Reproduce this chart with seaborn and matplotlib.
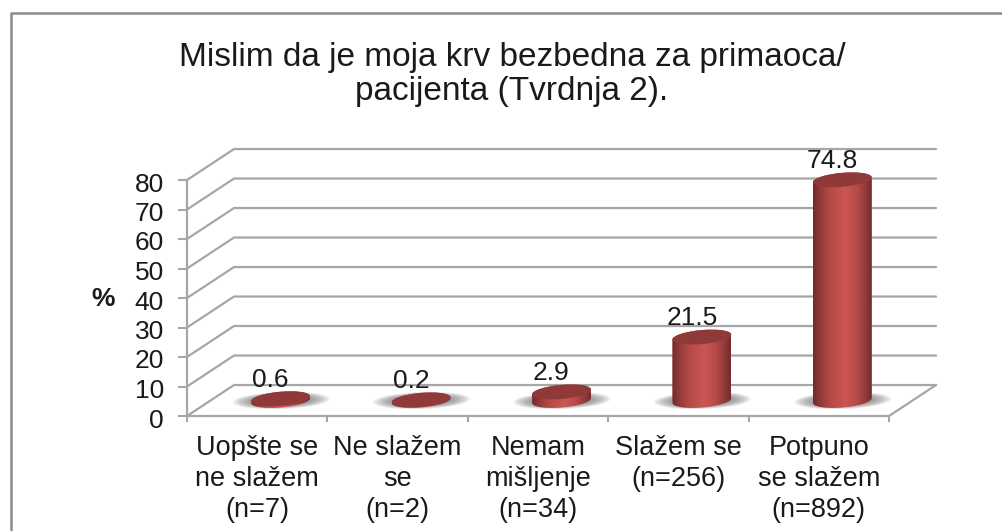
import numpy as np
import matplotlib
matplotlib.use("Agg")
import matplotlib.pyplot as plt
import seaborn as sns
from matplotlib.patches import Ellipse
from matplotlib.path import Path
from matplotlib.transforms import IdentityTransform, ScaledTranslation
from matplotlib.colors import LinearSegmentedColormap

categories = ["Uopšte se\nne slažem\n(n=7)", "Ne slažem\nse\n(n=2)", "Nemam\nmišljenje\n(n=34)",
              "Slažem se\n(n=256)", "Potpuno\nse slažem\n(n=892)"]
values = [0.6, 0.2, 2.9, 21.5, 74.8]
value_labels = ["0.6", "0.2", "2.9", "21.5", "74.8"]
y_ticks = [0, 10, 20, 30, 40, 50, 60, 70, 80]
title_text = "Mislim da je moja krv bezbedna za primaoca/\npacijenta (Tvrdnja 2)."

W, H = 1003, 531
sns.set_theme(style="white")
plt.rcParams["font.family"] = ["Liberation Sans", "DejaVu Sans"]

fig = plt.figure(figsize=(W / 100, H / 100), dpi=100, facecolor="white")

def rect(x0, x1, ytop, ybot):
    return [x0 / W, 1 - ybot / H, (x1 - x0) / W, (ybot - ytop) / H]

GRID = "#a6a6a6"
TXT = "#1a1a1a"
# front plane of the 3D box
ax_f = fig.add_axes(rect(187, 889, 180, 416), facecolor="none")
ax_f.set_xlim(-0.5, 4.5)
ax_f.set_ylim(0, 80)
ax_f.set_yticks(y_ticks)
ax_f.set_xticks(np.arange(-0.5, 5, 1), minor=False)
ax_f.set_xticklabels([])
ax_f.set_xticks(range(5), minor=True)
ax_f.set_xticklabels(categories, minor=True, fontsize=19.5, color=TXT, linespacing=1.25)
ax_f.tick_params(axis="x", which="minor", length=0, pad=14, bottom=True)
ax_f.tick_params(axis="x", which="major", length=4.5, width=1.5, color=GRID, direction="out", bottom=True)
ax_f.tick_params(axis="y", length=6.5, width=1.5, color=GRID, labelsize=19, labelcolor=TXT, pad=10, direction="out", left=True)
shift_down = ScaledTranslation(0, -2 / 100, fig.dpi_scale_trans)
for t in ax_f.get_yticklabels():
    t.set_transform(t.get_transform() + shift_down)
sns.despine(ax=ax_f, top=True, right=True)
for s in ("left", "bottom"):
    ax_f.spines[s].set_color(GRID)
    ax_f.spines[s].set_linewidth(1.6)
ax_f.set_ylabel("%", rotation=0, fontsize=19, fontweight="bold", color=TXT, va="center", ha="center")
ax_f.yaxis.set_label_coords(-0.119, 0.495)

dx, dy = 0.335, 10.5
for v in y_ticks:
    ax_f.plot([-0.5, -0.5 + dx, 4.5 + dx], [v, v + dy, v + dy], color=GRID, lw=1.6, clip_on=False, zorder=1)
ax_f.plot([4.5, 4.5 + dx], [0, dy], color=GRID, lw=1.6, clip_on=False, zorder=1)

# bars stand mid-depth in the box
ax_b = fig.add_axes(rect(210.5, 912.5, 164.5, 400.5), facecolor="none")
sns.barplot(x=list(range(5)), y=values, ax=ax_b, width=0.42, color="#c0504d", saturation=1, zorder=2, linewidth=0)
ax_b.set_xlim(-0.5, 4.5)
ax_b.set_ylim(0, 80)
ax_b.axis("off")

cmap = LinearSegmentedColormap.from_list(
    "cyl", [(0, "#6f2c2a"), (0.12, "#93393a"), (0.3, "#b54a48"), (0.55, "#cc5653"),
            (0.75, "#b54a48"), (0.9, "#8f3a38"), (1, "#6f2c2a")])
grad = np.linspace(0, 1, 256).reshape(1, -1)
ident = IdentityTransform()
EH = 14
TILT = np.radians(5)

def arc(cx, cy, a, b, t0, t1):
    t = np.linspace(t0, t1, 60)
    x = cx + a * np.cos(t) * np.cos(TILT) - b * np.sin(t) * np.sin(TILT)
    y = cy + a * np.cos(t) * np.sin(TILT) + b * np.sin(t) * np.cos(TILT)
    return np.column_stack([x, y])

for bar, val, lab in zip(ax_b.patches, values, value_labels):
    cx = bar.get_x() + bar.get_width() / 2
    px, py_top = ax_b.transData.transform((cx, val))
    _, py_base = ax_b.transData.transform((cx, 0))
    x0, _ = ax_b.transData.transform((bar.get_x(), 0))
    x1, _ = ax_b.transData.transform((bar.get_x() + bar.get_width(), 0))
    bw = x1 - x0
    # soft ground shadow
    for k in np.linspace(1, 0.5, 12):
        ax_b.add_patch(Ellipse((px + 0.5, py_base), 97 * k, 17 * k, angle=2, transform=ident,
                               fc="#6a6a6a", ec="none", alpha=0.1, zorder=0.5, clip_on=False))
    # cylinder outline: lower half of base + upper half of top
    outline = np.vstack([arc(px, py_base, bw / 2, EH / 2, np.pi, 2 * np.pi),
                         arc(px, py_top, bw / 2, EH / 2, 0, np.pi)])
    clip = Path(np.vstack([outline, outline[0]]), closed=True)
    bar.set_clip_path(clip, ident)
    bar.set_clip_box(fig.bbox)
    im = ax_b.imshow(grad, cmap=cmap, aspect="auto", interpolation="bilinear",
                     extent=(bar.get_x(), bar.get_x() + bar.get_width(), -6, val + 6), zorder=3)
    im.set_clip_path(clip, ident)
    im.set_clip_box(fig.bbox)
    # top cap
    ax_b.add_patch(Ellipse((px, py_top), bw, EH, angle=np.degrees(TILT), transform=ident,
                           fc="#8f3a38", ec="none", zorder=4, clip_on=False))
    ax_b.annotate(lab, (cx, val), xytext=(-10, 19), textcoords="offset pixels", ha="center", va="center",
                  fontsize=19, color=TXT, zorder=6, annotation_clip=False)
ax_b.set_xlim(-0.5, 4.5)
ax_b.set_ylim(0, 80)

fig.text(512 / W, 1 - 74.5 / H, title_text, ha="center", va="center", fontsize=24, color=TXT, linespacing=1.15)

# outer chart frame
frame = "#8c8c8c"
fig.add_artist(plt.Line2D([10.5 / W, 10.5 / W, 1], [0, 1 - 12.5 / H, 1 - 12.5 / H],
                          color=frame, lw=1.8, transform=fig.transFigure))

fig.savefig("out.png", dpi=100, facecolor="white")
